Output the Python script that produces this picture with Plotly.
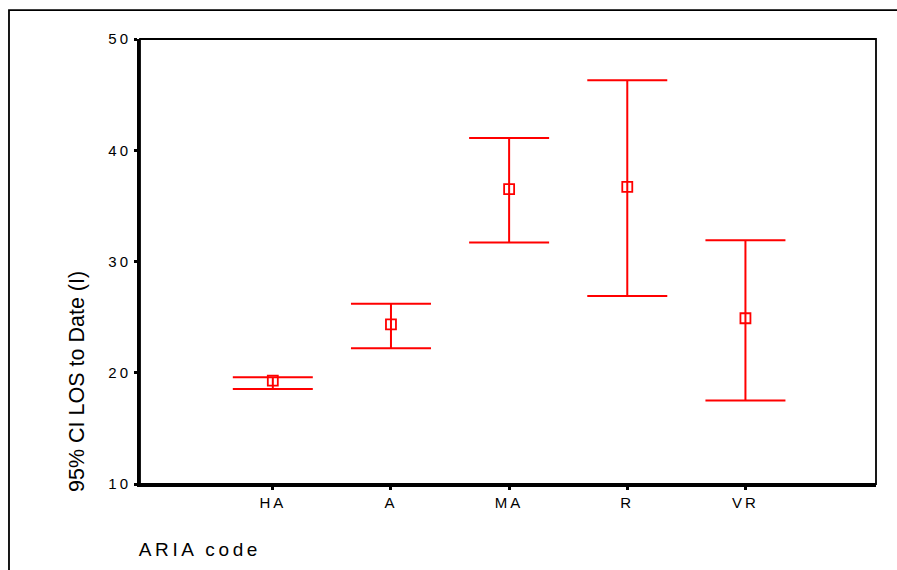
import plotly.graph_objects as go

# ARIA remoteness categories and 95% CI of length of stay to date
categories = ["HA", "A", "MA", "R", "VR"]
means = [19.3, 24.35, 36.5, 36.7, 24.9]
upper = [19.6, 26.2, 41.1, 46.3, 31.9]
lower = [18.55, 22.2, 31.7, 26.9, 17.5]
y_ticks = [10, 20, 30, 40, 50]

positions = list(range(1, len(categories) + 1))
err_plus = [u - m for u, m in zip(upper, means)]
err_minus = [m - l for m, l in zip(means, lower)]

RED = "#ff0000"
FONT = "Liberation Sans, Arial, sans-serif"

fig = go.Figure()
fig.add_trace(go.Scatter(
    x=positions,
    y=means,
    mode="markers",
    marker=dict(symbol="square-open", size=10, color=RED, line=dict(width=1.8, color=RED)),
    error_y=dict(
        type="data",
        symmetric=False,
        array=err_plus,
        arrayminus=err_minus,
        color=RED,
        thickness=2,
        width=40,
    ),
    showlegend=False,
    hoverinfo="skip",
))

fig.update_layout(
    width=897,
    height=570,
    margin=dict(l=140, r=21, t=39, b=86),
    paper_bgcolor="white",
    plot_bgcolor="white",
    font=dict(family=FONT, color="black"),
    xaxis=dict(
        range=[-0.124, 6.105],
        tickvals=positions,
        ticktext=categories,
        showgrid=False,
        zeroline=False,
        showline=True,
        linecolor="black",
        linewidth=2.5,
        ticks="outside",
        ticklen=3,
        tickwidth=3,
        tickcolor="black",
        tickfont=dict(size=15, family=FONT, color="black"),
        fixedrange=True,
    ),
    yaxis=dict(
        range=[10, 50],
        tickvals=y_ticks,
        ticktext=[str(v) for v in y_ticks],
        showgrid=False,
        zeroline=False,
        showline=True,
        linecolor="black",
        linewidth=3,
        ticks="outside",
        ticklen=3,
        tickwidth=3,
        tickcolor="black",
        tickfont=dict(size=15, family=FONT, color="black"),
        fixedrange=True,
    ),
    shapes=[
        # plot-area border
        dict(type="rect", xref="paper", yref="paper", x0=0, x1=1, y0=0, y1=1,
             line=dict(color="black", width=1.8), layer="below"),
        # outer chart frame
        dict(type="rect", xref="paper", yref="paper", x0=-0.178, x1=1.5, y0=-0.6, y1=1.065,
             line=dict(color="black", width=1.8), layer="below"),
    ],
    annotations=[
        dict(text="95% CI LOS to Date (I)", xref="paper", yref="paper",
             x=-0.0857, y=0.2315, xanchor="center", yanchor="middle",
             textangle=-90, showarrow=False,
             font=dict(size=21.5, family=FONT, color="black")),
        dict(text="ARIA code", xref="paper", yref="paper",
             x=0, y=-0.148, xanchor="left", yanchor="middle", xshift=13,
             showarrow=False,
             font=dict(size=19, family=FONT, color="black")),
    ],
)

# widen the letter spacing of the axis labels and the x title
post = """
var gd = document.getElementById('{plot_id}');
function spaceText() {
  gd.querySelectorAll('.xtick text, .ytick text').forEach(function (t) {
    t.style.letterSpacing = '3px';
  });
  gd.querySelectorAll('.annotation-text').forEach(function (t) {
    if (t.textContent === 'ARIA code') { t.style.letterSpacing = '3.6px'; }
  });
}
spaceText();
gd.on('plotly_afterplot', spaceText);
"""

fig.write_html("out.html", post_script=post, config={"displayModeBar": False})
